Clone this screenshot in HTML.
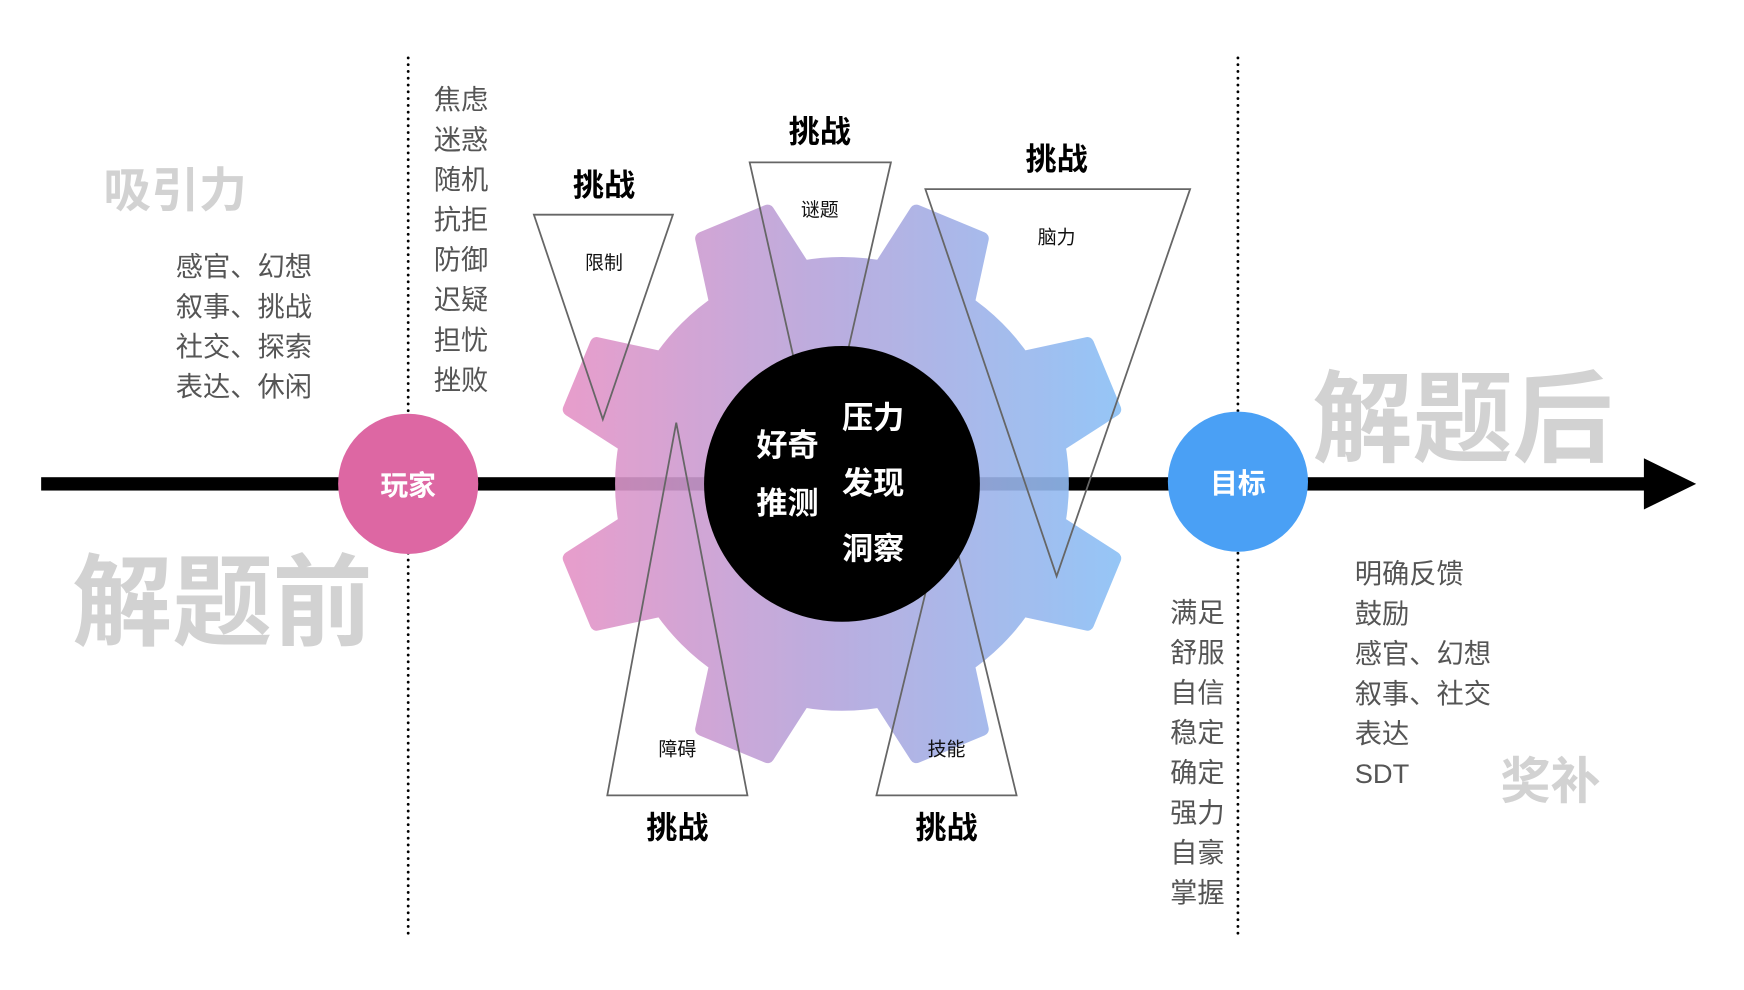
<!DOCTYPE html>
<html><head><meta charset="utf-8"><style>
html,body{margin:0;padding:0;background:#fff;width:1744px;height:990px;overflow:hidden}
svg{display:block}
text{font-family:"Liberation Sans","Noto Sans CJK SC",sans-serif}
.g{fill:#555;font-size:24.5px}
.big{fill:#d2d2d2;font-weight:bold}
.ch{fill:#000;font-weight:bold;font-size:28px;text-anchor:middle}
.lb{fill:#111;font-size:17px;text-anchor:middle}
.w{fill:#fff;font-weight:bold;font-size:28px}
</style></head><body>
<svg width="1744" height="990" viewBox="0 0 1568 890" preserveAspectRatio="none">
<defs>
<linearGradient id="gr" x1="505" y1="0" x2="1010" y2="0" gradientUnits="userSpaceOnUse">
<stop offset="0" stop-color="#e693c6"/><stop offset="0.5" stop-color="#b2a6dd"/><stop offset="1" stop-color="#8ac0f6"/>
</linearGradient>
<mask id="gm" maskUnits="userSpaceOnUse" x="0" y="0" width="1568" height="890">
<g transform="translate(757,435)" fill="#fff" stroke="#fff" stroke-width="12" stroke-linejoin="round">
<circle r="198"/>
<path d="M 180,-45 L 252,-32 L 252,32 L 180,45 Z" transform="rotate(22.5)"/>
<path d="M 180,-45 L 252,-32 L 252,32 L 180,45 Z" transform="rotate(67.5)"/>
<path d="M 180,-45 L 252,-32 L 252,32 L 180,45 Z" transform="rotate(112.5)"/>
<path d="M 180,-45 L 252,-32 L 252,32 L 180,45 Z" transform="rotate(157.5)"/>
<path d="M 180,-45 L 252,-32 L 252,32 L 180,45 Z" transform="rotate(-22.5)"/>
<path d="M 180,-45 L 252,-32 L 252,32 L 180,45 Z" transform="rotate(-67.5)"/>
<path d="M 180,-45 L 252,-32 L 252,32 L 180,45 Z" transform="rotate(-112.5)"/>
<path d="M 180,-45 L 252,-32 L 252,32 L 180,45 Z" transform="rotate(-157.5)"/>
</g>
</mask>
</defs>

<line x1="367" y1="52" x2="367" y2="840" stroke="#000" stroke-width="2.5" stroke-dasharray="0.1 6" stroke-linecap="round"/>
<line x1="1113" y1="52" x2="1113" y2="840" stroke="#000" stroke-width="2.5" stroke-dasharray="0.1 6" stroke-linecap="round"/>

<rect x="37" y="429" width="1445" height="12" fill="#000"/>
<polygon points="1478,412 1525,435 1478,458" fill="#000"/>

<rect x="480" y="160" width="560" height="560" fill="url(#gr)" mask="url(#gm)" opacity="0.9"/>

<g fill="none" stroke="#666" stroke-width="1.6">
<polygon points="480,193 605,193 542,377"/>
<polygon points="674,146 801,146 737,426"/>
<polygon points="832,170 1070,170 950,518"/>
<polygon points="608,380 672,715 546,715"/>
<polygon points="851,455 914,715 788,715"/>
</g>

<circle cx="757" cy="435" r="124" fill="#000"/>
<text class="w" x="708" y="410" text-anchor="middle">好奇</text>
<text class="w" x="708" y="462" text-anchor="middle">推测</text>
<text class="w" x="785" y="385" text-anchor="middle">压力</text>
<text class="w" x="785" y="444" text-anchor="middle">发现</text>
<text class="w" x="785" y="503" text-anchor="middle">洞察</text>

<circle cx="367" cy="435" r="63" fill="#dd67a3"/>
<text x="367" y="445" fill="#fff" font-weight="bold" font-size="25" text-anchor="middle">玩家</text>
<circle cx="1113" cy="433" r="63" fill="#4aa0f5"/>
<text x="1113" y="443" fill="#fff" font-weight="bold" font-size="25" text-anchor="middle">目标</text>

<text class="ch" x="543" y="176">挑战</text>
<text class="ch" x="737" y="128">挑战</text>
<text class="ch" x="950" y="153">挑战</text>
<text class="ch" x="609" y="754">挑战</text>
<text class="ch" x="851" y="754">挑战</text>
<text class="lb" x="543" y="242">限制</text>
<text class="lb" x="737" y="194">谜题</text>
<text class="lb" x="950" y="219">脑力</text>
<text class="lb" x="609" y="679">障碍</text>
<text class="lb" x="851" y="679">技能</text>

<text class="big" x="93" y="186" font-size="43">吸引力</text>
<text class="big" x="65" y="573" font-size="90">解题前</text>
<text class="big" x="1180" y="408" font-size="90">解题后</text>
<text class="big" x="1349" y="718" font-size="45">奖补</text>

<g class="g">
<text x="158" y="248">感官、幻想</text>
<text x="158" y="284">叙事、挑战</text>
<text x="158" y="320">社交、探索</text>
<text x="158" y="356">表达、休闲</text>
</g>
<g class="g">
<text x="390" y="98">焦虑</text>
<text x="390" y="134">迷惑</text>
<text x="390" y="170">随机</text>
<text x="390" y="206">抗拒</text>
<text x="390" y="242">防御</text>
<text x="390" y="278">迟疑</text>
<text x="390" y="314">担忧</text>
<text x="390" y="350">挫败</text>
</g>
<g class="g">
<text x="1052" y="559">满足</text>
<text x="1052" y="595">舒服</text>
<text x="1052" y="631">自信</text>
<text x="1052" y="667">稳定</text>
<text x="1052" y="703">确定</text>
<text x="1052" y="739">强力</text>
<text x="1052" y="775">自豪</text>
<text x="1052" y="811">掌握</text>
</g>
<g class="g">
<text x="1218" y="524">明确反馈</text>
<text x="1218" y="560">鼓励</text>
<text x="1218" y="596">感官、幻想</text>
<text x="1218" y="632">叙事、社交</text>
<text x="1218" y="668">表达</text>
<text x="1218" y="704">SDT</text>
</g>
</svg>
</body></html>
